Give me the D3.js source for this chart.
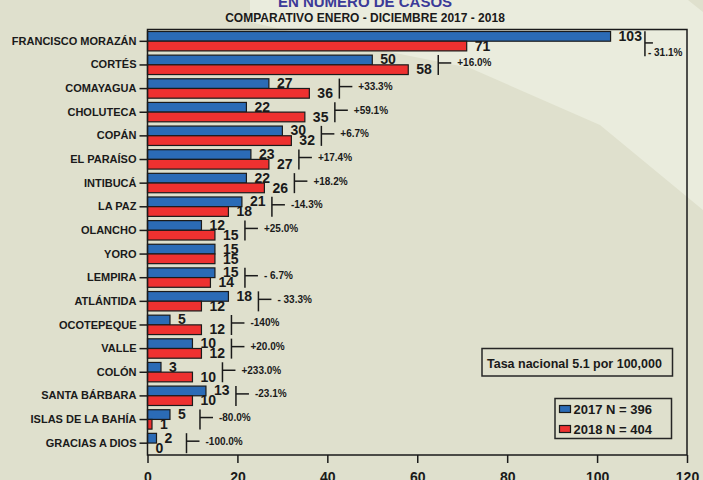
<!DOCTYPE html>
<html>
<head>
<meta charset="utf-8">
<script src="https://cdn.jsdelivr.net/npm/d3@7"></script>
<style>
  body { margin: 0; background: #dfe0cd; }
  svg { display: block; font-family: "Liberation Sans", Arial, sans-serif; }
</style>
</head>
<body>
<div id="my_dataviz"></div>
<script>
// datos por departamento
var departamentos = ["FRANCISCO MORAZÁN", "CORTÉS", "COMAYAGUA", "CHOLUTECA", "COPÁN", "EL PARAÍSO",
  "INTIBUCÁ", "LA PAZ", "OLANCHO", "YORO", "LEMPIRA", "ATLÁNTIDA", "OCOTEPEQUE", "VALLE",
  "COLÓN", "SANTA BÁRBARA", "ISLAS DE LA BAHÍA", "GRACIAS A DIOS"];
var casos2017 = [103, 50, 27, 22, 30, 23, 22, 21, 12, 15, 15, 18, 5, 10, 3, 13, 5, 2];
var casos2018 = [71, 58, 36, 35, 32, 27, 26, 18, 15, 15, 14, 12, 12, 12, 10, 10, 1, 0];
var variacion = ["- 31.1%", "+16.0%", "+33.3%", "+59.1%", "+6.7%", "+17.4%", "+18.2%", "-14.3%",
  "+25.0%", "", "- 6.7%", "- 33.3%", "-140%", "+20.0%", "+233.0%", "-23.1%", "-80.0%", "-100.0%"];
var xTicks = [0, 20, 40, 60, 80, 100, 120];
var leyenda = ["2017 N = 396", "2018 N = 404"];
var tasaTexto = "Tasa nacional 5.1 por 100,000";
var titulo = "EN NUMERO DE CASOS";
var subtitulo = "COMPARATIVO ENERO - DICIEMBRE 2017 - 2018";

var colores = ["#2b6bb6", "#ee3130"];
var width = 703, height = 480;
var margin = {top: 29.5, right: 16, bottom: 25, left: 147.5};
var plotRight = width - margin.right;
var plotBottom = height - margin.bottom;

var svg = d3.select("#my_dataviz")
  .append("svg")
    .attr("width", width)
    .attr("height", height);

// fondo con la franja clara diagonal
svg.append("rect").attr("width", width).attr("height", height).attr("fill", "#dfe0cd");
svg.append("path")
  .attr("d", "M250,0 L688,0 L703,12 L703,210 L600,125 L470,68 L330,40 L250,22 Z")
  .attr("fill", "#eaecdd");

// titulos
svg.append("text")
  .attr("x", 365).attr("y", 7)
  .attr("text-anchor", "middle")
  .attr("font-size", 15).attr("font-weight", "bold")
  .attr("fill", "#3b3a98")
  .text(titulo);
svg.append("text")
  .attr("x", 365).attr("y", 22)
  .attr("text-anchor", "middle")
  .attr("font-size", 12).attr("font-weight", "bold")
  .attr("fill", "#1a1a1a")
  .text(subtitulo);

var x = d3.scaleLinear()
  .domain([0, 120])
  .range([margin.left, plotRight]);

var y = d3.scaleBand()
  .domain(departamentos)
  .range([margin.top, plotBottom])
  .padding(0);

var bw = y.bandwidth();
var barH = 9.7;

// barras 2017 y 2018
var filas = departamentos.map(function(d, i) {
  return {dep: d, v17: casos2017[i], v18: casos2018[i], pct: variacion[i]};
});

var g = svg.append("g");

g.selectAll(".b17")
  .data(filas)
  .enter().append("rect")
    .attr("x", x(0))
    .attr("y", function(d) { return y(d.dep) + 2; })
    .attr("width", function(d) { return x(d.v17) - x(0); })
    .attr("height", barH)
    .attr("fill", colores[0])
    .attr("stroke", "#1b1b1b")
    .attr("stroke-width", 1.2);

g.selectAll(".b18")
  .data(filas)
  .enter().append("rect")
    .attr("x", x(0))
    .attr("y", function(d) { return y(d.dep) + 2 + barH; })
    .attr("width", function(d) { return x(d.v18) - x(0); })
    .attr("height", barH)
    .attr("fill", colores[1])
    .attr("stroke", "#1b1b1b")
    .attr("stroke-width", 1.2);

// etiquetas de valores
var l17 = g.selectAll(".l17")
  .data(filas)
  .enter().append("text")
    .attr("x", function(d) { return x(d.v17) + 8; })
    .attr("y", function(d) { return y(d.dep) + bw / 2 - 0.5; })
    .attr("font-size", 14).attr("font-weight", "bold")
    .attr("fill", "#1a1a1a")
    .text(function(d) { return d.v17; });

var l18 = g.selectAll(".l18")
  .data(filas)
  .enter().append("text")
    .attr("x", function(d) { return x(d.v18) + 8; })
    .attr("y", function(d) { return y(d.dep) + bw / 2 + 9.5; })
    .attr("font-size", 14).attr("font-weight", "bold")
    .attr("fill", "#1a1a1a")
    .text(function(d) { return d.v18; });

// fin de cada etiqueta, para que el corchete no la pise
var fin17 = l17.nodes().map(function(n, i) { return x(casos2017[i]) + 8 + n.getComputedTextLength(); });
var fin18 = l18.nodes().map(function(n, i) { return x(casos2018[i]) + 8 + n.getComputedTextLength(); });

// corchetes de variacion porcentual
filas.forEach(function(d, i) {
  if (!d.pct) return;
  var c = y(d.dep) + bw / 2;
  var lx = Math.max(x(Math.max(d.v17, d.v18)) + 30, Math.max(fin17[i], fin18[i]) + 3);
  var t = g.append("text")
    .attr("font-size", 10).attr("font-weight", "bold")
    .attr("fill", "#1a1a1a")
    .text(d.pct);
  var tw = t.node().getComputedTextLength();
  if (lx + 19 + tw > plotRight) {
    // no cabe a la derecha: texto debajo
    g.append("line").attr("x1", lx).attr("x2", lx).attr("y1", c - 10).attr("y2", c + 15)
      .attr("stroke", "#1a1a1a").attr("stroke-width", 1.5);
    g.append("line").attr("x1", lx).attr("x2", lx + 8).attr("y1", c + 1.6).attr("y2", c + 1.6)
      .attr("stroke", "#1a1a1a").attr("stroke-width", 1.5);
    t.attr("x", lx + 3).attr("y", c + 15);
  } else {
    g.append("line").attr("x1", lx).attr("x2", lx).attr("y1", c - 10).attr("y2", c + 10)
      .attr("stroke", "#1a1a1a").attr("stroke-width", 1.5);
    g.append("line").attr("x1", lx).attr("x2", lx + 13).attr("y1", c - 2).attr("y2", c - 2)
      .attr("stroke", "#1a1a1a").attr("stroke-width", 1.5);
    t.attr("x", lx + 19).attr("y", c - 2).attr("dy", "0.35em");
  }
});

// marco del area de grafico
svg.append("rect")
  .attr("x", margin.left).attr("y", margin.top)
  .attr("width", plotRight - margin.left)
  .attr("height", plotBottom - margin.top)
  .attr("fill", "none")
  .attr("stroke", "#1a1a1a")
  .attr("stroke-width", 1.5);

// ejes
var yAxis = svg.append("g")
  .attr("transform", "translate(" + margin.left + ",0)")
  .call(d3.axisLeft(y).tickSize(8).tickPadding(3));
yAxis.select(".domain").remove();
yAxis.selectAll("line").attr("stroke", "#1a1a1a").attr("stroke-width", 1.5);
yAxis.selectAll("text")
  .attr("font-size", 11).attr("font-weight", "bold")
  .attr("font-family", "Liberation Sans, Arial, sans-serif")
  .attr("fill", "#1a1a1a");

var xAxis = svg.append("g")
  .attr("transform", "translate(0," + plotBottom + ")")
  .call(d3.axisBottom(x).tickValues(xTicks).tickSize(8).tickPadding(9));
xAxis.select(".domain").remove();
xAxis.selectAll("line").attr("stroke", "#1a1a1a").attr("stroke-width", 1.5);
xAxis.selectAll("text")
  .attr("font-size", 14).attr("font-weight", "bold")
  .attr("font-family", "Liberation Sans, Arial, sans-serif")
  .attr("fill", "#1a1a1a");

// caja de tasa nacional
svg.append("rect")
  .attr("x", 482).attr("y", 348.5).attr("width", 190.5).attr("height", 27.5)
  .attr("fill", "none").attr("stroke", "#262626").attr("stroke-width", 1.5);
svg.append("text")
  .attr("x", 487).attr("y", 367.5)
  .attr("font-size", 12.5).attr("font-weight", "bold")
  .attr("fill", "#1a1a1a")
  .text(tasaTexto);

// leyenda
var leg = svg.append("g").attr("transform", "translate(555,398.5)");
leg.append("rect")
  .attr("width", 116.5).attr("height", 40)
  .attr("fill", "none").attr("stroke", "#262626").attr("stroke-width", 1.5);
leyenda.forEach(function(txt, i) {
  leg.append("rect")
    .attr("x", 4.5).attr("y", 7 + i * 20).attr("width", 11).attr("height", 7)
    .attr("fill", colores[i]).attr("stroke", "#1b1b1b").attr("stroke-width", 1.2);
  leg.append("text")
    .attr("x", 18.5).attr("y", 15.5 + i * 20)
    .attr("font-size", 13).attr("font-weight", "bold")
    .attr("fill", "#1a1a1a")
    .text(txt);
});
</script>
</body>
</html>
